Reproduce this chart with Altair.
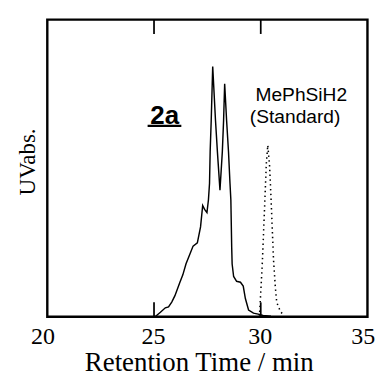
import altair as alt
import pandas as pd

# Solid trace: compound 2a
solid_t = [25.05, 25.30, 25.53, 25.68, 25.83, 25.98, 26.20, 26.35, 26.50, 26.65,
           26.83, 27.03, 27.18, 27.28, 27.37, 27.48, 27.55, 27.60, 27.63, 27.68,
           27.75, 27.88, 27.97, 28.09, 28.20, 28.26, 28.31, 28.40, 28.49, 28.56,
           28.60, 28.64, 28.66, 28.73, 28.87, 29.05, 29.18, 29.28, 29.43, 29.66,
           29.88, 30.11, 30.48]
solid_v = [0, 4.7, 9.3, 10.3, 15.3, 22, 35.3, 43.7, 55.3, 63.7,
           73.7, 77, 93.7, 116, 112, 108.7, 122, 139, 172, 205,
           261, 205, 172, 132, 172, 205, 243, 205, 172, 139,
           122, 72, 55, 42, 37, 36, 32, 19, 7, 3.7,
           2.7, 1.3, 0.5]

# Dotted trace: MePhSiH2 standard
std_t = [29.94, 29.95, 30.00, 30.08, 30.14, 30.20, 30.26, 30.33, 30.41, 30.48,
         30.54, 30.60, 30.68, 30.75, 30.93, 31.08]
std_v = [0, 5, 25, 59, 92, 125, 159, 179, 159, 125,
         92, 59, 32, 15, 5, 2]

x_ticks = [20, 25, 30, 35]
inner_ticks = [25, 30]

W, H = 334, 310
serif = "Liberation Serif"
sans = "Liberation Sans"

solid_df = pd.DataFrame({"t": solid_t, "v": solid_v})
std_df = pd.DataFrame({"t": std_t, "v": std_v})

xscale = alt.Scale(domain=[20, 35], nice=False, zero=False)
yscale = alt.Scale(domain=[0, 310], nice=False, zero=False)

xaxis = alt.Axis(
    orient="bottom",
    values=x_ticks, title="Retention Time / min", grid=False,
    ticks=False, tickSize=0,
    domain=False, labelFont=serif, labelFontSize=25, labelColor="black",
    labelPadding=8, labelFlush=False,
    labelOffset={"condition": {"test": "datum.value == 20 || datum.value == 35", "value": -5}, "value": -1},
    titleFont=serif, titleFontSize=28, titleFontWeight="normal", titleColor="black",
    titleBaseline="alphabetic", titleY=56, titleX=158,
)
yaxis = alt.Axis(
    title="UVabs.", labels=False, ticks=False, domain=False, grid=False,
    titleFont=serif, titleFontSize=24, titleFontWeight="normal", titleColor="black",
    titleBaseline="alphabetic", titleX=-13, titleY=148,
)

solid = alt.Chart(solid_df).mark_line(color="black", strokeWidth=1.5).encode(
    x=alt.X("t:Q", scale=xscale, axis=xaxis),
    y=alt.Y("v:Q", scale=yscale, axis=yaxis),
)
std = alt.Chart(std_df).mark_line(color="black", strokeWidth=1.6, strokeDash=[1.5, 3.5]).encode(
    x=alt.X("t:Q", axis=None),
    y=alt.Y("v:Q", axis=None),
)

ann = pd.DataFrame({"dummy": [0]})

# inward tick marks at the inner tick values, top and bottom of the frame
tick_layers = []
for tv in inner_ticks:
    tick_layers.append(
        alt.Chart(ann).mark_rule(color="black", strokeWidth=1.8).encode(
            x=alt.X(datum=tv, axis=None), y=alt.value(0), y2=alt.value(15),
        )
    )
    tick_layers.append(
        alt.Chart(ann).mark_rule(color="black", strokeWidth=1.8).encode(
            x=alt.X(datum=tv, axis=None), y=alt.value(H - 15), y2=alt.value(H),
        )
    )

label_2a = alt.Chart(ann).mark_text(
    text="2a", font=sans, fontSize=27, fontWeight="bold", color="black",
    align="center", baseline="alphabetic",
).encode(x=alt.X(datum=25.50, axis=None), y=alt.Y(datum=201.3, axis=None))
underline = alt.Chart(ann).mark_rule(color="black", strokeWidth=2.3).encode(
    x=alt.X(datum=24.70, axis=None), x2=alt.datum(26.28), y=alt.Y(datum=199.2, axis=None),
)
label_std1 = alt.Chart(ann).mark_text(
    text="MePhSiH2", font=sans, fontSize=20, color="black",
    align="center", baseline="alphabetic",
).encode(x=alt.X(datum=31.90, axis=None), y=alt.Y(datum=225.3, axis=None))
label_std2 = alt.Chart(ann).mark_text(
    text="(Standard)", font=sans, fontSize=20, color="black",
    align="center", baseline="alphabetic",
).encode(x=alt.X(datum=31.61, axis=None), y=alt.Y(datum=202.5, axis=None))

chart = alt.layer(
    solid, std, *tick_layers, label_2a, underline, label_std1, label_std2
).resolve_axis(x="independent", y="independent").properties(
    width=W, height=H,
    autosize=alt.AutoSizeParams(type="none"),
    padding={"left": 41, "top": 4, "right": 11, "bottom": 60},
    background="white",
).configure_view(
    stroke="black", strokeWidth=2.5,
)

chart.save("out.html", embed_options={"renderer": "svg", "actions": False})
